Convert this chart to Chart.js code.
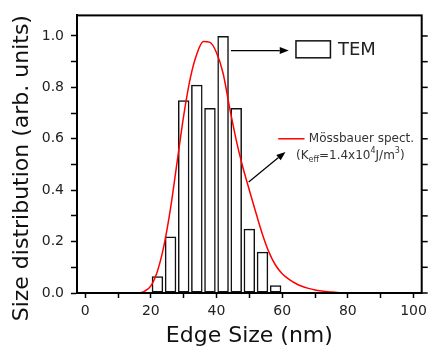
<!DOCTYPE html>
<html>
<head>
<meta charset="utf-8">
<script src="https://cdn.jsdelivr.net/npm/chart.js@4/dist/chart.umd.min.js"></script>
<style>
html, body { margin: 0; padding: 0; background: #fff; }
#wrap { width: 432px; height: 353px; }
</style>
</head>
<body>
<div id="wrap"><canvas id="chart"></canvas></div>
<script>
// histogram (TEM), bin centres in nm
var binCenters = [22, 26, 30, 34, 38, 42, 46, 50, 54, 58];
var temValues  = [0.065, 0.22, 0.75, 0.81, 0.72, 1.0, 0.72, 0.25, 0.16, 0.03];

// Mossbauer curve
var fitX = [16, 18, 20, 22, 24, 26, 28, 30, 32, 34, 36, 38, 40, 42, 44, 46, 48, 50, 52, 54, 56, 58, 60, 62, 64, 66, 68, 70, 72, 74, 76, 78, 80];
var fitY = [0, 0.006, 0.028, 0.085, 0.185, 0.33, 0.51, 0.69, 0.835, 0.93, 0.978, 0.975, 0.935, 0.855, 0.72, 0.595, 0.49, 0.40, 0.312, 0.228, 0.158, 0.108, 0.075, 0.054, 0.038, 0.026, 0.018, 0.012, 0.008, 0.005, 0.003, 0.001, 0];

var xLabels = [0, 20, 40, 60, 80, 100];
var yLabels = [0, 0.2, 0.4, 0.6, 0.8, 1.0];

var FONT = '"DejaVu Sans", sans-serif';

function arrow(ctx, x1, y1, x2, y2) {
  var a = Math.atan2(y2 - y1, x2 - x1), h = 9, w = 3.5;
  ctx.beginPath();
  ctx.moveTo(x1, y1);
  ctx.lineTo(x2 - h * Math.cos(a), y2 - h * Math.sin(a));
  ctx.stroke();
  ctx.beginPath();
  ctx.moveTo(x2, y2);
  ctx.lineTo(x2 - h * Math.cos(a) + w * Math.sin(a), y2 - h * Math.sin(a) - w * Math.cos(a));
  ctx.lineTo(x2 - h * Math.cos(a) - w * Math.sin(a), y2 - h * Math.sin(a) + w * Math.cos(a));
  ctx.closePath();
  ctx.fill();
}

var extras = {
  id: 'extras',
  afterDraw: function (chart) {
    var ctx = chart.ctx, a = chart.chartArea;
    var xs = chart.scales.x, ys = chart.scales.y;
    ctx.save();
    // frame
    ctx.strokeStyle = '#000';
    ctx.lineWidth = 2;
    ctx.strokeRect(a.left, a.top, a.right - a.left, a.bottom - a.top);
    // right-side ticks
    ctx.lineWidth = 1.5;
    ys.ticks.forEach(function (t) {
      var py = ys.getPixelForValue(t.value);
      ctx.beginPath();
      ctx.moveTo(a.right, py);
      ctx.lineTo(a.right + 6, py);
      ctx.stroke();
    });

    // TEM legend
    ctx.lineWidth = 1.5;
    ctx.strokeStyle = '#111';
    var bx = xs.getPixelForValue(64.2), by = ys.getPixelForValue(0.981);
    var bw = xs.getPixelForValue(74.7) - bx, bh = ys.getPixelForValue(0.915) - by;
    ctx.strokeRect(bx, by, bw, bh);
    ctx.fillStyle = '#222';
    ctx.font = '18px ' + FONT;
    ctx.textBaseline = 'middle';
    ctx.fillText('TEM', xs.getPixelForValue(77.0), ys.getPixelForValue(0.946));
    ctx.fillStyle = '#000';
    ctx.strokeStyle = '#000';
    ctx.lineWidth = 1.2;
    arrow(ctx, xs.getPixelForValue(44.4), ys.getPixelForValue(0.943),
      xs.getPixelForValue(62.0), ys.getPixelForValue(0.943));

    // Mossbauer legend
    ctx.strokeStyle = '#ff0000';
    ctx.lineWidth = 1.5;
    ctx.beginPath();
    ctx.moveTo(xs.getPixelForValue(58.8), ys.getPixelForValue(0.600));
    ctx.lineTo(xs.getPixelForValue(66.8), ys.getPixelForValue(0.600));
    ctx.stroke();
    ctx.fillStyle = '#333';
    ctx.font = '12px ' + FONT;
    ctx.fillText('Mössbauer spect.', xs.getPixelForValue(68.1), ys.getPixelForValue(0.600));
    var x0 = xs.getPixelForValue(64.2), y0 = ys.getPixelForValue(0.535);
    var parts = [['(K', 12, 0], ['eff', 8, 4], ['=1.4x10', 12, 0], ['4', 8, -5], ['J/m', 12, 0], ['3', 8, -5], [')', 12, 0]];
    parts.forEach(function (p) {
      ctx.font = p[1] + 'px ' + FONT;
      ctx.fillText(p[0], x0, y0 + p[2]);
      x0 += ctx.measureText(p[0]).width;
    });
    ctx.fillStyle = '#000';
    ctx.strokeStyle = '#000';
    ctx.lineWidth = 1.2;
    arrow(ctx, xs.getPixelForValue(49.8), ys.getPixelForValue(0.432),
      xs.getPixelForValue(61.0), ys.getPixelForValue(0.549));
    ctx.restore();
  }
};

new Chart(document.getElementById('chart'), {
  data: {
    datasets: [
      {
        type: 'line',
        label: 'Mössbauer spect.',
        data: fitX.map(function (x, i) { return { x: x, y: fitY[i] }; }),
        borderColor: '#ff0000',
        borderWidth: 1.5,
        pointRadius: 0,
        fill: false,
        cubicInterpolationMode: 'monotone',
        order: 0
      },
      {
        type: 'bar',
        label: 'TEM',
        data: binCenters.map(function (x, i) { return { x: x, y: temValues[i] }; }),
        backgroundColor: 'rgba(255,255,255,0)',
        borderColor: '#111',
        borderWidth: 1.5,
        borderSkipped: false,
        barPercentage: 1,
        categoryPercentage: 0.875,
        order: 1
      }
    ]
  },
  options: {
    responsive: true,
    maintainAspectRatio: false,
    animation: false,
    layout: { padding: { top: 11, right: 6, left: 0, bottom: 0 } },
    plugins: { legend: { display: false }, tooltip: { enabled: false } },
    scales: {
      x: {
        type: 'linear',
        offset: false,
        min: -2.5,
        max: 102.5,
        afterFit: function (s) { s.height = 60; },
        grid: { offset: false, drawOnChartArea: false, drawTicks: true, tickLength: 5, tickColor: '#000', tickWidth: 1.5 },
        border: { display: true, color: '#000', width: 2 },
        ticks: {
          stepSize: 10,
          includeBounds: false,
          autoSkip: false,
          maxRotation: 0,
          padding: 5,
          color: '#222',
          font: { family: FONT, size: 14 },
          callback: function (v) { return xLabels.indexOf(v) >= 0 ? String(v) : ''; }
        },
        title: {
          display: true,
          text: 'Edge Size (nm)',
          color: '#111',
          font: { family: FONT, size: 22 },
          padding: { top: 0, bottom: 4 }
        }
      },
      y: {
        min: 0,
        max: 1.08,
        afterFit: function (s) { s.width = 77; },
        grid: { drawOnChartArea: false, drawTicks: true, tickLength: 6, tickColor: '#000', tickWidth: 1.5 },
        border: { display: true, color: '#000', width: 2 },
        ticks: {
          stepSize: 0.1,
          includeBounds: false,
          autoSkip: false,
          padding: 7,
          color: '#222',
          font: { family: FONT, size: 14 },
          callback: function (v) {
            var k = Math.round(v * 10);
            return k % 2 === 0 ? (k / 10).toFixed(1) : '';
          }
        },
        title: {
          display: true,
          text: 'Size distribution (arb. units)    ',
          color: '#111',
          font: { family: FONT, size: 22 },
          padding: { top: 9, bottom: 0 }
        }
      }
    }
  },
  plugins: [extras]
});
</script>
</body>
</html>
